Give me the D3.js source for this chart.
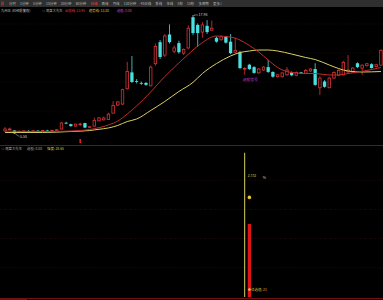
<!DOCTYPE html>
<html>
<head>
<meta charset="utf-8">
<script src="https://cdn.jsdelivr.net/npm/d3@7"></script>
<style>
html, body { margin: 0; padding: 0; background: #000; overflow: hidden; }
svg { display: block; }
text { font-family: "Noto Sans CJK SC", "Noto Sans", sans-serif; }
</style>
</head>
<body>
<svg id="chart" width="383" height="300"></svg>
<script>
// toolbar tabs
const tabs = ["分时", "1分钟", "5分钟", "15分钟", "30分钟", "60分钟", "日线", "周线", "月线",
    "120分钟", "45日线", "季线", "年线", "5秒", "15秒", "多周期", "更多 )"];
const activeTab = "日线";

// daily candles (price)
const opens = [5.90, 6.05, 5.95, 5.80, 5.85, 5.90, 5.86, 5.92, 5.88, 5.94, 5.90, 5.96, 6.10, 6.75, 6.60, 6.40, 6.58, 6.72, 6.30, 6.40,
    6.95, 7.05, 7.10, 7.75, 8.60, 8.70, 10.30, 12.00, 11.10, 10.90, 10.90, 10.60, 12.90, 15.15, 13.80, 15.95, 14.20, 15.05, 14.00, 14.55,
    17.75, 16.95, 16.20, 16.85, 16.40, 15.60, 15.40, 15.70, 15.20, 14.10, 14.10, 12.35, 12.80, 12.55, 11.95, 12.25, 12.55, 12.05, 11.55, 11.55,
    11.75, 12.00, 11.70, 12.00, 11.90, 12.15, 12.35, 10.40, 11.05, 10.40, 11.40, 11.70, 11.75, 12.05, 12.05, 12.95, 12.45, 12.70, 12.85, 12.60,
    12.75];
const highs = [6.30, 6.25, 6.00, 5.95, 5.95, 5.98, 5.95, 6.00, 5.96, 6.02, 6.00, 6.08, 6.85, 6.85, 6.65, 6.65, 6.75, 6.75, 6.40, 7.30,
    7.35, 7.40, 7.80, 9.00, 9.00, 10.30, 13.10, 13.70, 11.30, 11.05, 11.00, 12.70, 15.00, 15.37, 16.00, 17.00, 14.80, 15.30, 14.50, 16.90,
    17.98, 17.10, 17.25, 17.45, 17.40, 15.75, 15.85, 15.80, 16.00, 15.60, 14.25, 12.55, 12.90, 12.65, 12.45, 12.65, 13.30, 12.10, 11.85, 12.00,
    12.55, 12.10, 12.10, 12.05, 12.35, 12.45, 12.95, 11.60, 11.20, 11.55, 12.10, 12.40, 13.20, 13.80, 12.55, 13.05, 12.85, 13.00, 12.95, 12.90,
    14.40];
const lows = [5.80, 5.95, 5.58, 5.75, 5.80, 5.82, 5.80, 5.85, 5.82, 5.88, 5.85, 5.90, 6.05, 6.60, 6.35, 6.35, 6.40, 6.20, 6.25, 6.35,
    6.90, 7.00, 7.05, 7.70, 8.50, 8.60, 10.20, 10.90, 10.85, 10.70, 10.60, 10.55, 12.70, 13.40, 13.60, 15.00, 14.00, 13.95, 13.80, 14.40,
    15.90, 14.65, 15.60, 16.00, 16.30, 15.10, 15.30, 15.00, 13.90, 14.00, 12.35, 11.75, 12.25, 11.85, 11.85, 12.15, 11.95, 11.45, 11.45, 11.45,
    11.65, 11.60, 11.60, 11.85, 11.85, 12.05, 10.60, 9.65, 10.40, 10.35, 11.30, 11.60, 11.70, 11.95, 12.00, 12.45, 11.75, 12.60, 12.40, 12.55,
    12.70];
const closes = [6.10, 6.10, 5.65, 5.85, 5.90, 5.86, 5.92, 5.88, 5.94, 5.90, 5.96, 6.02, 6.73, 6.68, 6.40, 6.60, 6.62, 6.25, 6.34, 7.00,
    7.25, 7.25, 7.65, 8.55, 8.92, 10.20, 12.10, 11.00, 11.05, 10.85, 10.70, 12.55, 14.70, 13.60, 15.80, 15.15, 14.55, 14.10, 14.40, 16.60,
    16.10, 16.10, 16.95, 16.20, 16.60, 15.20, 15.70, 15.10, 14.00, 14.30, 12.45, 12.40, 12.35, 11.95, 12.35, 12.55, 12.05, 11.55, 11.75, 11.95,
    12.25, 11.70, 12.00, 11.90, 12.20, 12.35, 10.70, 11.40, 10.50, 11.40, 12.00, 12.20, 13.05, 12.25, 12.45, 12.55, 12.75, 12.90, 12.45, 12.80,
    14.30];

// moving average lines read at sample bars
const maIdx = [0, 8, 14, 18, 20, 22, 24, 26, 28, 31, 34, 37, 40, 42, 45, 48, 50, 52, 54, 56, 58, 61, 64, 66, 69, 71, 73, 76, 80];
const maFast = [5.89, 5.84, 5.89, 6.05, 6.24, 6.52, 6.93, 7.66, 8.50, 9.96, 11.57, 12.98, 14.33, 15.11, 15.79, 15.68, 15.37, 14.80,
    14.12, 13.29, 12.51, 11.99, 11.88, 11.88, 11.73, 11.73, 11.88, 12.11, 12.51];
const maSlow = [5.74, 5.74, 5.84, 5.94, 6.07, 6.21, 6.47, 6.88, 7.14, 8.03, 8.97, 10.01, 10.96, 11.88, 12.92, 13.71, 14.07, 14.23,
    14.33, 14.33, 14.23, 13.91, 13.55, 13.34, 12.77, 12.40, 12.14, 12.04, 12.09];

// indicator panel
const signalIdx = 52;
const signalLineIdx = 51;
const signalLine = 41.5;
const signalBar = 21;
const strength = 28.65;
const markIdx = 16;

const N = opens.length;
const candles = d3.range(N).map(i => ({ i, o: opens[i], h: highs[i], l: lows[i], c: closes[i] }));

const svg = d3.select("#chart");
const W = 383;

const x = d3.scaleBand().domain(d3.range(N)).range([2, 384]).padding(0.3);
const xc = i => x(i) + x.bandwidth() / 2;
const y = d3.scaleLinear().domain([5.58, 17.98]).range([134, 15]);
const yLow = d3.scaleLinear().domain([0, 42]).range([297, 151]);

// toolbar
svg.append("rect").attr("x", 0).attr("y", 0).attr("width", W).attr("height", 7).attr("fill", "#2f2f2f");
svg.append("rect").attr("x", 1).attr("y", 1.5).attr("width", 3).attr("height", 4).attr("fill", "#8a3030");
const tabG = svg.append("g");
const tabText = tabG.selectAll("text").data(tabs).join("text")
    .attr("y", 5)
    .attr("font-size", 3.4)
    .attr("fill", d => d === activeTab ? "#ff3b3b" : "#b8b8b8")
    .text(d => d);
const widths = [];
tabText.each(function () { widths.push(this.getComputedTextLength()); });
const gap = (213 - 9 - d3.sum(widths.slice(0, -1))) / (tabs.length - 1);
let tx = 9;
tabText.attr("x", (d, i) => { const v = tx; tx += widths[i] + gap; return v; });

// info row
const info = svg.append("g").attr("font-size", 3.3);
info.append("text").attr("x", 1).attr("y", 11.5).attr("fill", "#c8c8c8").text("九州王 (已经前复权)");
info.append("text").attr("x", 42).attr("y", 11.5).attr("fill", "#a8a8a8").text("◎ 尾盘大先生");
info.append("text").attr("x", 65).attr("y", 11.5).attr("fill", "#e03a3a").text("动态线: 13.45");
info.append("text").attr("x", 89).attr("y", 11.5).attr("fill", "#d8c840").text("趋势线: 13.30");
info.append("text").attr("x", 117).attr("y", 11.5).attr("fill", "#d040d0").text("选股: 0.00");

// grid lines
const grid = svg.append("g").attr("stroke", "#2c0e0e").attr("stroke-width", 0.6).attr("stroke-dasharray", "1,1.5");
[24, 53, 82, 111].forEach(gy => grid.append("line").attr("x1", 0).attr("x2", W).attr("y1", gy).attr("y2", gy));
[1, 2, 3, 4].forEach(k => {
    const gy = yLow.range()[1] + (yLow.range()[0] - yLow.range()[1]) * k / 5;
    grid.append("line").attr("x1", 0).attr("x2", W).attr("y1", gy).attr("y2", gy).attr("stroke", "#3a1010");
});

// candles
const up = "#d8353a", down = "#48e0e0";
const cg = svg.append("g");
candles.forEach(d => {
    const cx = xc(d.i);
    const bw = x.bandwidth();
    if (d.c >= d.o) {
        const top = y(d.c), bot = y(d.o);
        cg.append("line").attr("x1", cx).attr("x2", cx).attr("y1", y(d.h)).attr("y2", top).attr("stroke", up).attr("stroke-width", 0.8);
        cg.append("line").attr("x1", cx).attr("x2", cx).attr("y1", bot).attr("y2", y(d.l)).attr("stroke", up).attr("stroke-width", 0.8);
        cg.append("rect").attr("x", x(d.i) + 0.4).attr("y", top).attr("width", bw - 0.8)
            .attr("height", Math.max(0.6, bot - top)).attr("fill", "#000").attr("stroke", up).attr("stroke-width", 0.8);
    } else {
        const top = y(d.o), bot = y(d.c);
        cg.append("line").attr("x1", cx).attr("x2", cx).attr("y1", y(d.h)).attr("y2", y(d.l)).attr("stroke", down).attr("stroke-width", 0.8);
        cg.append("rect").attr("x", x(d.i)).attr("y", top).attr("width", bw)
            .attr("height", Math.max(0.8, bot - top)).attr("fill", down);
    }
});

// moving averages
const maLine = vals => d3.line().x((d, k) => xc(maIdx[k])).y(d => y(d)).curve(d3.curveMonotoneX)(vals);
svg.append("path").attr("d", maLine(maSlow)).attr("fill", "none").attr("stroke", "#d8d060").attr("stroke-width", 1);
svg.append("path").attr("d", maLine(maFast)).attr("fill", "none").attr("stroke", "#c42a2a").attr("stroke-width", 1);

// high / low labels
const hiI = d3.maxIndex(highs), loI = d3.minIndex(lows);
svg.append("path").attr("d", `M${xc(hiI) + 1},${y(highs[hiI]) + 1}V${y(highs[hiI])}H${xc(hiI) + 5}`)
    .attr("fill", "none").attr("stroke", "#c8c8c8").attr("stroke-width", 0.5);
svg.append("text").attr("x", xc(hiI) + 5.5).attr("y", y(highs[hiI]) + 1.3).attr("font-size", 3.6)
    .attr("fill", "#c8c8c8").text(highs[hiI].toFixed(2));
svg.append("path").attr("d", `M${xc(loI) + 1},${y(lows[loI])}L${xc(loI) + 5},${y(lows[loI]) + 2.5}`)
    .attr("fill", "none").attr("stroke", "#c8c8c8").attr("stroke-width", 0.5);
svg.append("text").attr("x", xc(loI) + 5.5).attr("y", y(lows[loI]) + 4).attr("font-size", 3.6)
    .attr("fill", "#c8c8c8").text(lows[loI].toFixed(2));

// sell label
svg.append("text").attr("x", xc(51) - 2).attr("y", 80.5).attr("font-size", 3.8).attr("fill", "#c838c8").text("选股信号");

// small signal mark above separator
svg.append("rect").attr("x", xc(markIdx) - 0.8).attr("y", 139).attr("width", 1.6).attr("height", 4).attr("fill", "#e02020");

// panel separator and bottom border
svg.append("line").attr("x1", 0).attr("x2", W).attr("y1", 145.5).attr("y2", 145.5).attr("stroke", "#6e1212").attr("stroke-width", 1);
svg.append("line").attr("x1", 0).attr("x2", W).attr("y1", 298.5).attr("y2", 298.5).attr("stroke", "#6e1212").attr("stroke-width", 1);
svg.append("line").attr("x1", 0).attr("x2", 27).attr("y1", 299.5).attr("y2", 299.5).attr("stroke", "#1a2a70").attr("stroke-width", 1);

// lower panel title
const lt = svg.append("g").attr("font-size", 3.4);
lt.append("text").attr("x", 1).attr("y", 149.5).attr("fill", "#a8a8a8").text("◎ 尾盘大先生");
lt.append("text").attr("x", 27).attr("y", 149.5).attr("fill", "#a8a8a8").text("选股: 0.00");
lt.append("text").attr("x", 47).attr("y", 149.5).attr("fill", "#d8c840").text("强度: 28.65");

// lower indicator
svg.append("line").attr("x1", xc(signalLineIdx)).attr("x2", xc(signalLineIdx))
    .attr("y1", yLow(signalLine)).attr("y2", yLow(0)).attr("stroke", "#d8d060").attr("stroke-width", 1);
svg.append("rect").attr("x", x(signalIdx)).attr("y", yLow(signalBar)).attr("width", x.bandwidth())
    .attr("height", yLow(0) - yLow(signalBar)).attr("fill", "#e01414");
svg.append("circle").attr("cx", xc(signalIdx)).attr("cy", yLow(strength)).attr("r", 1.8).attr("fill", "#e8c830");
svg.append("text").attr("x", x(signalIdx)).attr("y", 176.5).attr("font-size", 3.4).attr("fill", "#c8c050").text("2.332");
svg.append("text").attr("x", x(signalIdx) + 15).attr("y", 179).attr("font-size", 3.4).attr("fill", "#d8d8a0").text("%");
svg.append("text").attr("x", x(signalIdx)).attr("y", 290.5).attr("font-size", 3.4).attr("fill", "#d0c040").text("◆优选值: " + signalBar);
</script>
</body>
</html>
